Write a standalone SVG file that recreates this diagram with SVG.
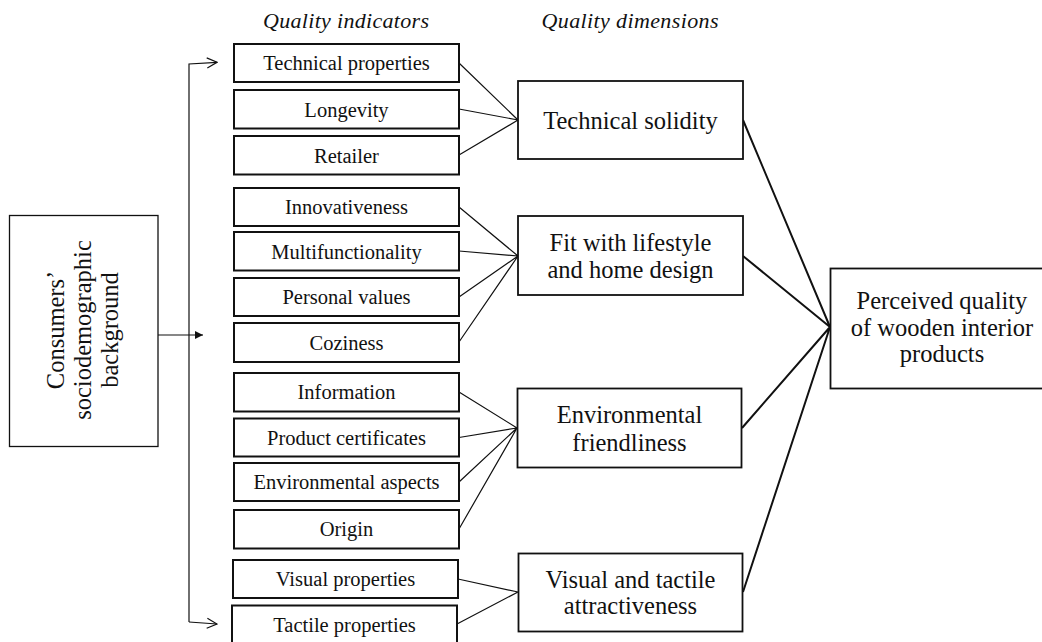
<svg xmlns="http://www.w3.org/2000/svg" width="1042" height="642" viewBox="0 0 1042 642">
  <style>
    text { font-family: "Liberation Serif", "Times New Roman", serif; fill: #111; }
    .head { font-size: 22px; font-style: italic; text-anchor: middle; }
    .ind rect { fill: #fff; stroke: #111; stroke-width: 2; }
    .ind text { font-size: 20.5px; text-anchor: middle; }
    .dim rect { fill: #fff; stroke: #111; stroke-width: 1.8; }
    .dim text { font-size: 24.5px; text-anchor: middle; }
    .src rect { fill: #fff; stroke: #111; stroke-width: 1.3; }
    .src text { font-size: 24.5px; text-anchor: middle; }
    .thin { fill: none; stroke: #111; stroke-width: 1.2; }
    .thick { fill: none; stroke: #111; stroke-width: 2; }
  </style>
  <defs>
    <marker id="open" viewBox="0 0 12 12" refX="11" refY="6" markerWidth="12" markerHeight="12" markerUnits="userSpaceOnUse" orient="auto">
      <path d="M1,1 L11,6 L1,11" fill="none" stroke="#111" stroke-width="1.2"/>
    </marker>
    <marker id="solid" viewBox="0 0 10 10" refX="9" refY="5" markerWidth="9" markerHeight="9" markerUnits="userSpaceOnUse" orient="auto">
      <path d="M0,0.5 L9,5 L0,9.5 Z" fill="#111"/>
    </marker>
  </defs>

  <rect width="1042" height="642" fill="#fff"/>

  <!-- column headings -->
  <text class="head" x="346" y="28" textLength="166" lengthAdjust="spacing">Quality indicators</text>
  <text class="head" x="630" y="28" textLength="177" lengthAdjust="spacing">Quality dimensions</text>

  <!-- connectors -->
  <g id="connectors">
    <!-- background influence on all indicators -->
    <path class="thin" d="M189,622 L189,64 L217,62.3" marker-end="url(#open)"/>
    <path class="thin" d="M189,622 L217,624" marker-end="url(#open)"/>
    <path class="thin" d="M158,335 L203,335" marker-end="url(#solid)"/>

    <!-- indicators to Technical solidity -->
    <path class="thin" d="M459,63 L518,120 M459,109 L518,120 M459,155 L518,120"/>
    <!-- indicators to Fit with lifestyle -->
    <path class="thin" d="M459,207 L518,256 M459,251 L518,256 M459,297 L518,256 M459,342 L518,256"/>
    <!-- indicators to Environmental friendliness -->
    <path class="thin" d="M459,392 L517,428 M459,437.5 L517,428 M459,482 L517,428 M459,529 L517,428"/>
    <!-- indicators to Visual and tactile attractiveness -->
    <path class="thin" d="M458,579 L518,592 M457,624 L518,592"/>

    <!-- dimensions to perceived quality -->
    <path class="thick" d="M743,120 L830,327 M743,256 L830,327 M742,428 L830,327 M743,592 L830,327"/>
  </g>

  <!-- source node -->
  <g id="node-background" class="src">
    <rect x="9.5" y="215.5" width="148.5" height="231"/>
    <g transform="translate(0,330) rotate(-90)">
      <text x="0" y="63.5">Consumers’</text>
      <text x="0" y="90.5">sociodemographic</text>
      <text x="0" y="117.5">background</text>
    </g>
  </g>

  <!-- quality indicators -->
  <g id="node-technical-properties" class="ind">
    <rect x="234" y="44" width="225" height="38"/>
    <text x="346.5" y="70">Technical properties</text>
  </g>
  <g id="node-longevity" class="ind">
    <rect x="234" y="90" width="225" height="38.5"/>
    <text x="346.5" y="116.5">Longevity</text>
  </g>
  <g id="node-retailer" class="ind">
    <rect x="234" y="136" width="225" height="38.5"/>
    <text x="346.5" y="162.5">Retailer</text>
  </g>
  <g id="node-innovativeness" class="ind">
    <rect x="234" y="188" width="225" height="38"/>
    <text x="346.5" y="214">Innovativeness</text>
  </g>
  <g id="node-multifunctionality" class="ind">
    <rect x="234" y="232" width="225" height="38.5"/>
    <text x="346.5" y="258.5">Multifunctionality</text>
  </g>
  <g id="node-personal-values" class="ind">
    <rect x="234" y="278" width="225" height="38"/>
    <text x="346.5" y="304">Personal values</text>
  </g>
  <g id="node-coziness" class="ind">
    <rect x="234" y="323" width="225" height="39"/>
    <text x="346.5" y="349.5">Coziness</text>
  </g>
  <g id="node-information" class="ind">
    <rect x="234" y="373" width="225" height="38.5"/>
    <text x="346.5" y="399">Information</text>
  </g>
  <g id="node-product-certificates" class="ind">
    <rect x="234" y="418.5" width="225" height="38"/>
    <text x="346.5" y="444.5">Product certificates</text>
  </g>
  <g id="node-environmental-aspects" class="ind">
    <rect x="234" y="463" width="225" height="38"/>
    <text x="346.5" y="489">Environmental aspects</text>
  </g>
  <g id="node-origin" class="ind">
    <rect x="234" y="510" width="225" height="38.5"/>
    <text x="346.5" y="536">Origin</text>
  </g>
  <g id="node-visual-properties" class="ind">
    <rect x="233" y="560" width="225" height="38"/>
    <text x="345.5" y="586">Visual properties</text>
  </g>
  <g id="node-tactile-properties" class="ind">
    <rect x="232" y="605.5" width="225" height="38"/>
    <text x="344.5" y="631.5">Tactile properties</text>
  </g>

  <!-- quality dimensions -->
  <g id="node-technical-solidity" class="dim">
    <rect x="518" y="81" width="225" height="78"/>
    <text x="630.5" y="129">Technical solidity</text>
  </g>
  <g id="node-fit-lifestyle" class="dim">
    <rect x="518" y="216" width="225" height="79"/>
    <text x="630.5" y="250.5">Fit with lifestyle</text>
    <text x="630.5" y="278">and home design</text>
  </g>
  <g id="node-environmental-friendliness" class="dim">
    <rect x="517.5" y="388.5" width="224" height="79"/>
    <text x="629.5" y="423">Environmental</text>
    <text x="629.5" y="450.5">friendliness</text>
  </g>
  <g id="node-visual-tactile" class="dim">
    <rect x="518.5" y="553.5" width="224" height="78"/>
    <text x="630.5" y="587.5">Visual and tactile</text>
    <text x="630.5" y="614">attractiveness</text>
  </g>

  <!-- outcome -->
  <g id="node-perceived-quality" class="dim">
    <rect x="830.5" y="268.5" width="225" height="120"/>
    <text x="942" y="308.5">Perceived quality</text>
    <text x="942" y="336">of wooden interior</text>
    <text x="942" y="362">products</text>
  </g>
</svg>
